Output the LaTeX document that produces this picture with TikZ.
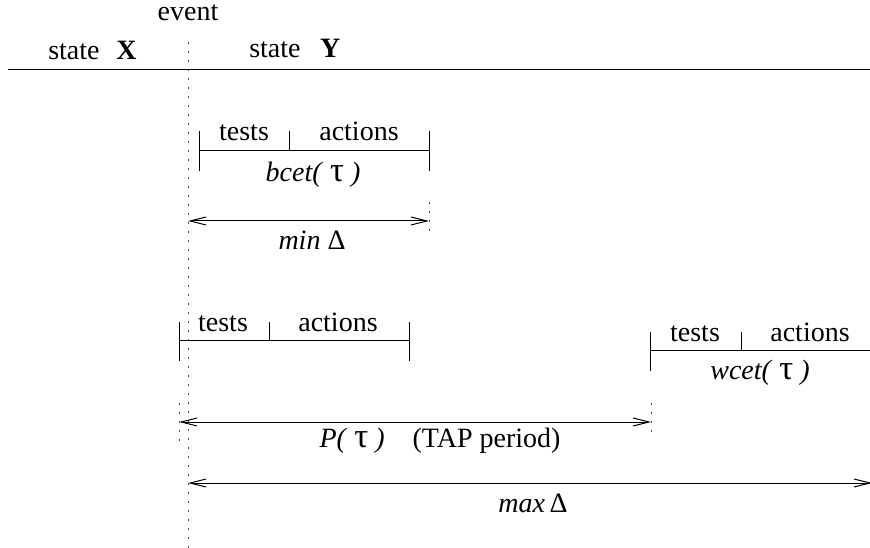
\documentclass[tikz,border=0pt]{standalone}
\usepackage{fontspec}
\setmainfont{Liberation Serif}
\usetikzlibrary{arrows.meta}
\newcommand{\tauL}{{\fontsize{26}{26}\selectfont τ}}
\begin{document}
\begin{tikzpicture}[x=0.75pt,y=-0.75pt,
  lbl/.style={anchor=base,inner sep=0pt,font=\fontsize{21}{25}\selectfont},
  bar/.style={line width=0.75pt},
  evline/.style={line width=0.75pt,dash pattern=on 1.5pt off 5.25pt,black!70},
  dim/.style={line width=0.75pt,{Straight Barb[length=12pt,width=6pt]}-{Straight Barb[length=12pt,width=6pt]}}
]
\useasboundingbox (0,0) rectangle (870,548);

% event line and state line
\coordinate (evtop) at (188,42);
\coordinate (evbot) at (188,548);
\draw[evline] (evtop) -- (evbot);
\coordinate (hl) at (8,70);
\coordinate (hr) at (870,70);
\draw[bar] (hl) -- (hr);

\node[lbl] (event) at (188,21) {event};
\node[lbl,anchor=base west] (sx) at (48,60) {state\hspace{0.6em}\textbf{X}};
\node[lbl,anchor=base west] (sy) at (249,58) {state\hspace{0.7em}\textbf{Y}};

% block 1 (bcet)
\coordinate (b1lt) at (199,131); \coordinate (b1lb) at (199,171);
\coordinate (b1l) at (199,151); \coordinate (b1r) at (429,151);
\coordinate (b1mt) at (289,131); \coordinate (b1m) at (289,151);
\coordinate (b1rt) at (429,131); \coordinate (b1rb) at (429,171);
\draw[bar] (b1lt) -- (b1lb);
\draw[bar] (b1l) -- (b1r);
\draw[bar] (b1mt) -- (b1m);
\draw[bar] (b1rt) -- (b1rb);
\node[lbl] (t1) at (244,141) {tests};
\node[lbl] (a1) at (359,141) {actions};
\node[lbl] (bcet) at (313,182) {\textit{bcet(} \tauL{} \textit{)}};

% min delta
\coordinate (mnl) at (188,221); \coordinate (mnr) at (429,221);
\coordinate (mnrt) at (429,202); \coordinate (mnrb) at (429,238);
\draw[evline] (mnrt) -- (mnrb);
\draw[dim] (mnl) -- (mnr);
\node[lbl] (mind) at (312,250) {\textit{min} Δ};

% block 2
\coordinate (b2lt) at (179,322); \coordinate (b2lb) at (179,361);
\coordinate (b2l) at (179,341); \coordinate (b2r) at (409,341);
\coordinate (b2mt) at (269,322); \coordinate (b2m) at (269,341);
\coordinate (b2rt) at (409,322); \coordinate (b2rb) at (409,361);
\draw[bar] (b2lt) -- (b2lb);
\draw[bar] (b2l) -- (b2r);
\draw[bar] (b2mt) -- (b2m);
\draw[bar] (b2rt) -- (b2rb);
\node[lbl] (t2) at (223,332) {tests};
\node[lbl] (a2) at (338,332) {actions};

% block 3 (wcet)
\coordinate (b3lt) at (650,332); \coordinate (b3lb) at (650,371);
\coordinate (b3l) at (650,351); \coordinate (b3r) at (870,351);
\coordinate (b3mt) at (741,332); \coordinate (b3m) at (741,351);
\draw[bar] (b3lt) -- (b3lb);
\draw[bar] (b3l) -- (b3r);
\draw[bar] (b3mt) -- (b3m);
\node[lbl] (t3) at (695,342) {tests};
\node[lbl] (a3) at (810,342) {actions};
\node[lbl] (wcet) at (760,380) {\textit{wcet(} \tauL{} \textit{)}};

% period
\coordinate (pl) at (179,422); \coordinate (pr) at (651,422);
\coordinate (plt) at (179,403); \coordinate (plb) at (179,447);
\coordinate (prt) at (651,403); \coordinate (prb) at (651,438);
\draw[evline] (plt) -- (plb);
\draw[evline] (prt) -- (prb);
\draw[dim] (pl) -- (pr);
\node[lbl] (per) at (440,447) {\textit{P(} \tauL{} \textit{)}\hspace{1em}(TAP period)};

% max delta
\coordinate (mxl) at (188,483); \coordinate (mxr) at (872,483);
\draw[dim] (mxl) -- (mxr);
\node[lbl] (maxd) at (533,512) {\textit{max}\,Δ};
\end{tikzpicture}
\end{document}
